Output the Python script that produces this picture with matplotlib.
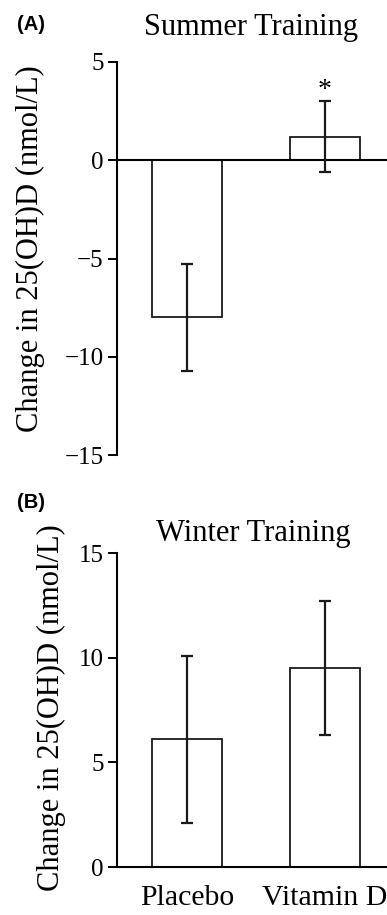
import matplotlib
matplotlib.use("Agg")
import matplotlib.pyplot as plt

groups = ["Placebo", "Vitamin D"]

# change in 25(OH)D, mean and SE (nmol/L)
summer_mean = [-8.0, 1.2]
summer_se = [2.7, 1.8]
winter_mean = [6.1, 9.5]
winter_se = [4.0, 3.2]

plt.rcParams['font.family'] = ['Liberation Serif', 'DejaVu Serif']
plt.rcParams['axes.unicode_minus'] = True

W, H = 387, 915
fig = plt.figure(figsize=(W / 100, H / 100), dpi=100)


def px_axes(left, top, right, bottom):
    return fig.add_axes([left / W, 1 - bottom / H, (right - left) / W, (bottom - top) / H])


def draw_panel(ax, means, ses, ylim, yticks):
    x = range(len(groups))
    ax.bar(x, means, width=0.507, color='white', edgecolor='#1a1a1a', linewidth=1.3, zorder=2)
    ax.errorbar(x, means, yerr=ses, fmt='none', ecolor='#1a1a1a', elinewidth=1.6,
                capsize=4.5, capthick=1.6, zorder=3)
    ax.set_xlim(-0.507, 1.507)
    ax.set_ylim(*ylim)
    ax.set_yticks(yticks)
    ax.tick_params(axis='y', direction='out', length=6.5, width=1.4, labelsize=18, pad=3)
    ax.tick_params(axis='x', length=0, labelsize=21.5)
    for s in ['top', 'right']:
        ax.spines[s].set_visible(False)
    ax.spines['left'].set_linewidth(1.5)
    ax.spines['bottom'].set_linewidth(1.5)
    ax.spines['bottom'].set_position(('data', 0))


# (A) summer
ax1 = px_axes(117, 62, 395, 455)
draw_panel(ax1, summer_mean, summer_se, (-15, 5), [5, 0, -5, -10, -15])
ax1.set_xticks([])
ax1.text(1, summer_mean[1] + summer_se[1] + 0.55, '*', ha='center', va='center', fontsize=20)
fig.text(251 / W, 1 - 27 / H, 'Summer Training', ha='center', va='center', fontsize=22)
fig.text(17 / W, 1 - 25 / H, '(A)', ha='left', va='center', fontsize=14.5,
         fontweight='bold', family='Liberation Sans')
fig.text(30 / W, 1 - 249 / H, 'Change in 25(OH)D (nmol/L)', rotation=90,
         ha='center', va='center', fontsize=22)

# (B) winter
ax2 = px_axes(117, 553, 395, 867)
draw_panel(ax2, winter_mean, winter_se, (0, 15), [0, 5, 10, 15])
ax2.set_xticks(range(len(groups)))
ax2.set_xticklabels(groups)
ax2.tick_params(axis='x', pad=13)
fig.text(253 / W, 1 - 533 / H, 'Winter Training', ha='center', va='center', fontsize=22)
fig.text(17 / W, 1 - 502 / H, '(B)', ha='left', va='center', fontsize=14.5,
         fontweight='bold', family='Liberation Sans')
fig.text(51 / W, 1 - 708 / H, 'Change in 25(OH)D (nmol/L)', rotation=90,
         ha='center', va='center', fontsize=22)

fig.savefig('out.png', dpi=100)
